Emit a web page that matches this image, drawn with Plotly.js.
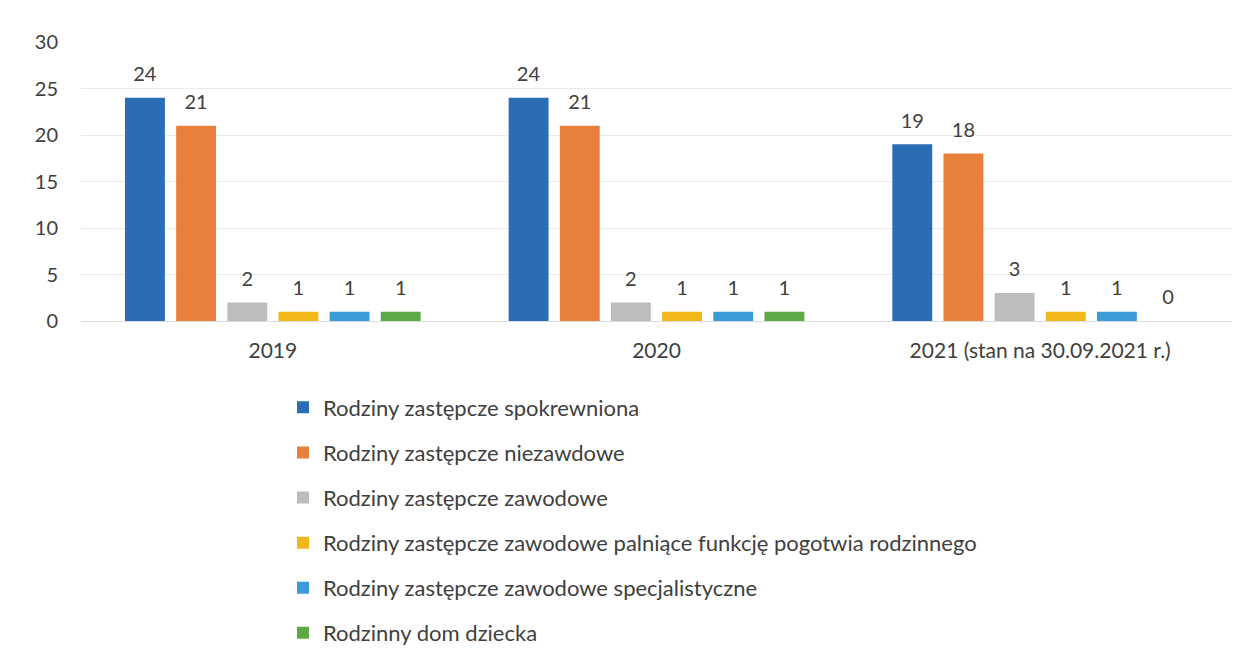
<!DOCTYPE html>
<html>
<head>
<meta charset="utf-8">
<script src="https://cdn.plot.ly/plotly-3.0.1.min.js"></script>
<style>html,body{margin:0;padding:0;background:#fff;}#chart{width:1250px;height:661px;}</style>
</head>
<body>
<div id="chart"></div>
<script>
const categories = ["2019", "2020", "2021 (stan na 30.09.2021 r.)"];
const seriesNames = [
  "Rodziny zastępcze spokrewniona",
  "Rodziny zastępcze niezawdowe",
  "Rodziny zastępcze zawodowe",
  "Rodziny zastępcze zawodowe palniące funkcję pogotwia rodzinnego",
  "Rodziny zastępcze zawodowe specjalistyczne",
  "Rodzinny dom dziecka"
];
const spokrewniona = [24, 24, 19];
const niezawodowe = [21, 21, 18];
const zawodowe = [2, 2, 3];
const pogotowie = [1, 1, 1];
const specjalistyczne = [1, 1, 1];
const domDziecka = [1, 1, 0];
const yTicks = [0, 5, 10, 15, 20, 25, 30];

const seriesValues = [spokrewniona, niezawodowe, zawodowe, pogotowie, specjalistyczne, domDziecka];
const colors = ["#2a6db5", "#e8803c", "#bdbdbd", "#f2b81a", "#3a9bd6", "#5ea845"];
const txtColor = "#404040";
const font = "Lato, 'Liberation Sans', sans-serif";

const traces = seriesValues.map((vals, i) => ({
  type: "bar",
  name: seriesNames[i],
  x: categories,
  y: vals,
  marker: {color: colors[i]},
  text: vals.map(String),
  texttemplate: "<span style='font-size:20px'>%{text}</span><br> ",
  textposition: "outside",
  constraintext: "none",
  cliponaxis: false,
  textfont: {family: font, size: 9, color: txtColor},
  legendgroup: "g" + i,
  hoverinfo: "x+y+name"
}));

const layout = {
  width: 1250,
  height: 661,
  margin: {l: 81, r: 18, t: 42, b: 340, autoexpand: false},
  paper_bgcolor: "#ffffff",
  plot_bgcolor: "#ffffff",
  font: {family: font, size: 20, color: txtColor},
  barmode: "group",
  bargap: 0.2,
  bargroupgap: 0.22,
  showlegend: true,
  legend: {
    orientation: "v",
    x: 0.1755, y: -0.235,
    xanchor: "left", yanchor: "top",
    font: {family: font, size: 22, color: txtColor},
    tracegroupgap: 13.5,
    itemwidth: 30,
    traceorder: "grouped"
  },
  xaxis: {
    type: "category",
    showgrid: false,
    showline: false,
    zeroline: false,
    ticks: "",
    tickangle: 0,
    tickfont: {family: font, size: 21, color: txtColor},
    ticklabelstandoff: 15
  },
  yaxis: {
    range: [0, 30],
    tickvals: yTicks,
    ticktext: yTicks.map(String),
    showgrid: true,
    gridcolor: "#e9e9e9",
    gridwidth: 1,
    zeroline: true,
    zerolinecolor: "#dcdcdc",
    showline: false,
    ticks: "",
    tickfont: {family: font, size: 20, color: txtColor},
    ticklabelstandoff: 22
  }
};

Plotly.newPlot("chart", traces, layout, {displayModeBar: false, staticPlot: true});
</script>
</body>
</html>
